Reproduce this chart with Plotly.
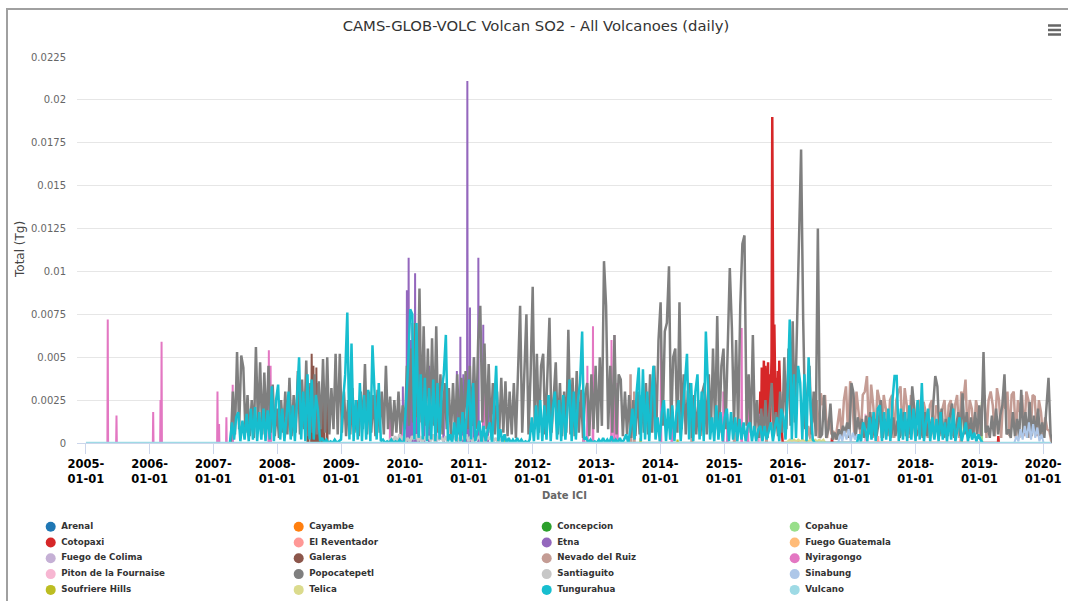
import pandas as pd
import plotly.graph_objects as go

# ---------------- data (values in units of 1e-4 Tg) ----------------
SCALE = 1e-4
STEP_DAYS = 12

volcano_names = ["Arenal", "Cayambe", "Concepcion", "Copahue", "Cotopaxi", "El Reventador",
                 "Etna", "Fuego Guatemala", "Fuego de Colima", "Galeras", "Nevado del Ruiz",
                 "Nyiragongo", "Piton de la Fournaise", "Popocatepetl", "Santiaguito", "Sinabung",
                 "Soufriere Hills", "Telica", "Tungurahua", "Vulcano"]
volcano_colors = ["#1f77b4", "#ff7f0e", "#2ca02c", "#98df8a", "#d62728", "#ff9896",
                  "#9467bd", "#ffbb78", "#c5b0d5", "#8c564b", "#c49c94", "#e377c2",
                  "#f7b6d2", "#7f7f7f", "#c7c7c7", "#aec7e8", "#bcbd22", "#dbdb8d",
                  "#17becf", "#9edae5"]

# Popocatepetl: 12-day samples from 2007-04-10
popo_start = "2007-04-10"
popo_vals = [0, 30, 5, 53, 8, 51, 44, 6, 28, 4,
             25, 3, 56, 10, 47, 5, 41, 8, 45, 6,
             34, 4, 20, 3, 25, 6, 30, 5, 38, 4,
             28, 6, 42, 5, 37, 8, 48, 4, 35, 6,
             40, 5, 36, 8, 49, 6, 50, 5, 32, 8,
             52, 5, 52, 6, 30, 4, 25, 5, 32, 6,
             25, 4, 30, 8, 46, 5, 30, 6, 28, 4,
             31, 6, 30, 5, 45, 8, 27, 4, 25, 6,
             30, 5, 22, 8, 45, 10, 55, 12, 70, 15,
             90, 12, 68, 10, 55, 8, 61, 10, 68, 6,
             40, 5, 35, 8, 32, 4, 35, 6, 40, 5,
             38, 6, 42, 8, 45, 10, 50, 8, 60, 80,
             12, 58, 8, 46, 6, 35, 5, 30, 4, 38,
             6, 36, 4, 30, 5, 35, 3, 40, 80, 6,
             40, 75, 5, 40, 91, 8, 52, 6, 45, 52,
             5, 40, 73, 6, 30, 47, 5, 35, 4, 30,
             6, 66, 5, 38, 4, 42, 6, 31, 3, 28,
             35, 4, 40, 8, 45, 6, 50, 10, 106,
             80, 8, 45, 6, 63, 5, 40, 37, 4, 30,
             5, 28, 3, 25, 4, 30, 5, 28, 6, 35,
             5, 40, 6, 45, 8, 60, 82, 10, 65, 70,
             103, 8, 50, 55, 6, 82, 8, 40, 5, 30,
             35, 3, 28, 5, 25, 4, 30, 35, 5,
             40, 6, 55, 8, 74, 6, 45, 55, 8, 60,
             102, 67, 10, 60, 8, 80, 116, 121, 10, 40,
             6, 63, 5, 25, 3, 20, 4, 25, 3, 20,
             35, 5, 18, 4, 30, 6, 50, 8, 55, 10,
             71, 12, 60, 123, 171, 72, 8, 30, 45, 5,
             30, 4, 125, 3, 5, 28, 3, 8, 23, 2,
             6, 2, 8, 4, 10, 6, 12, 3, 35,
             29, 3, 15, 8, 14, 3, 16, 5, 18, 3,
             14, 4, 12, 25, 3, 14, 5, 12, 3, 15,
             4, 13, 3, 10, 18, 4, 14, 5, 33, 20,
             4, 8, 15, 3, 18, 4, 14, 5, 25, 39,
             33, 5, 20, 3, 14, 4, 16, 23, 3, 12,
             18, 4, 29, 5, 18, 3, 15, 4, 18, 5,
             22, 4, 53, 6, 10, 3, 16, 4, 20, 5,
             16, 22, 40, 5, 8, 3, 18, 4, 14, 3,
             31, 5, 18, 3, 24, 4, 16, 5, 20, 4,
             12, 3, 18, 38, 5, 0]

# Tungurahua: 12-day samples from 2007-04-05
tung_start = "2007-04-05"
tung_vals = [0, 12, 2, 15, 18, 1, 13, 2, 17, 1,
             20, 2, 21, 1, 18, 2, 20, 1, 19, 2,
             33, 1, 25, 34, 2, 20, 1, 18, 30, 2,
             22, 1, 28, 50, 2, 30, 1, 40, 2, 37,
             2, 28, 19, 1, 3, 0, 2, 0, 1, 0,
             2, 0, 1, 2, 25, 40, 76, 2, 58, 1,
             25, 2, 35, 1, 28, 2, 31, 1, 57, 29,
             2, 35, 1, 2, 0, 1, 0, 2, 0, 1,
             0, 2, 0, 1, 20, 45, 78, 75, 2, 70,
             3, 40, 2, 38, 1, 32, 2, 37, 1, 35,
             2, 30, 40, 63, 1, 5, 0, 12, 1, 15,
             1, 18, 0, 20, 37, 2, 35, 1, 8, 13,
             0, 10, 1, 8, 12, 0, 20, 45, 1, 8,
             0, 5, 0, 3, 0, 2, 0, 3, 0, 2,
             0, 1, 0, 2, 15, 1, 22, 2, 25, 1,
             22, 2, 28, 1, 20, 30, 2, 25, 1, 28,
             2, 22, 37, 1, 30, 2, 25, 35, 65, 2,
             3, 0, 2, 0, 1, 0, 2, 0, 3, 0,
             2, 0, 4, 0, 2, 0, 3, 0, 2, 5,
             0, 8, 20, 2, 30, 44, 1, 43, 2, 30,
             1, 25, 45, 2, 15, 1, 18, 25, 1, 20,
             2, 22, 1, 18, 25, 1, 20, 35, 52, 2,
             35, 1, 30, 40, 2, 30, 1, 65, 34, 2,
             15, 1, 22, 2, 18, 1, 15, 20, 1, 18,
             2, 15, 1, 14, 2, 12, 1, 10, 12, 1,
             10, 1, 8, 10, 1, 10, 2, 8, 12, 1,
             10, 15, 1, 20, 15, 2, 30, 72, 2, 40,
             3, 45, 35, 2, 40, 1, 50, 20, 2, 0,
             0, 0, 0, 0, 0, 0, 0, 0, 0, 0,
             0, 0, 0, 0, 0, 0, 0, 0, 0, 0,
             5, 1, 12, 8, 1, 15, 2, 18, 1, 20,
             22, 1, 18, 2, 20, 1, 25, 39, 39, 1,
             20, 2, 18, 1, 22, 2, 20, 1, 25, 2,
             35, 1, 12, 20, 1, 15, 2, 14, 1, 18,
             2, 12, 1, 15, 2, 20, 1, 8, 15, 1,
             6, 12, 1, 8, 2, 6, 1, 5, 2, 0]

# Nevado del Ruiz: 12-day samples from 2016-04-15, plus earlier spikes
ruiz_start = "2016-04-15"
ruiz_vals = [0, 10, 2, 20, 12, 25, 3, 29, 22, 28,
             3, 15, 5, 7, 2, 12, 20, 3, 25, 33,
             5, 36, 25, 4, 30, 18, 3, 28, 30, 39,
             5, 34, 22, 4, 31, 25, 3, 28, 20, 4,
             25, 28, 3, 25, 30, 33, 4, 32, 22, 3,
             28, 20, 3, 23, 25, 4, 24, 18, 3, 22,
             25, 3, 22, 18, 4, 20, 25, 3, 22, 25,
             4, 22, 28, 3, 30, 25, 37, 4, 25, 20,
             3, 25, 18, 4, 25, 28, 3, 25, 30, 22,
             4, 32, 25, 3, 28, 20, 30, 4, 28, 30,
             3, 25, 18, 28, 4, 30, 25, 3, 28, 27,
             4, 25, 18, 3, 15, 8, 7, 0]
ruiz_spike_dates = ["2012-10-20", "2013-07-15", "2013-08-05", "2014-07-01", "2015-03-01", "2015-09-01"]
ruiz_spike_vals = [13, 40, 30, 15, 12, 15]

# Cotopaxi: 4-day samples from 2015-07-20, plus small later spikes
coto_start = "2015-07-20"
coto_step = 4
coto_vals = [0, 10, 30, 8, 44, 12, 40, 48, 10, 45, 38, 8, 25, 47, 10, 40, 12, 45, 50, 190,
             83, 15, 69, 40, 10, 38, 12, 42, 10, 48, 35, 8, 10, 5, 0]
coto_spike_dates = ["2016-09-10", "2019-04-20"]
coto_spike_vals = [3, 4]

etna_dates = ["2009-12-20", "2010-01-12", "2010-01-22", "2010-02-02", "2010-02-12", "2010-02-28",
              "2010-03-10", "2010-03-22", "2010-04-20", "2010-05-20", "2010-06-28", "2010-08-10",
              "2010-10-25", "2010-11-14", "2010-12-01", "2010-12-24", "2011-01-08", "2011-01-30",
              "2011-02-25", "2011-03-25", "2011-04-20"]
etna_vals = [33, 89, 108, 60, 70, 99, 55, 65, 62, 45, 47, 30, 42, 62, 40, 211, 79, 50, 108, 69, 35]

nyira_dates = ["2005-05-06", "2005-06-25", "2006-01-21", "2006-03-04", "2006-03-10", "2007-01-24",
               "2007-02-02", "2007-03-16", "2007-04-21", "2007-11-14", "2007-11-24", "2009-10-08",
               "2009-12-18", "2011-03-28", "2012-10-20", "2012-11-10", "2012-12-12", "2013-03-28",
               "2013-04-14", "2013-05-01", "2014-01-05", "2014-03-08", "2014-12-28", "2015-01-20",
               "2015-04-12", "2015-05-18", "2015-07-22"]
nyira_vals = [72, 16, 18, 25, 59, 30, 11, 15, 34, 54, 45, 16, 19, 40, 20, 45, 68, 60, 63, 35,
              60, 32, 30, 17, 67, 31, 17]

galeras_dates = ["2008-06-25", "2008-07-16", "2008-07-26", "2008-08-12", "2008-08-25",
                 "2008-09-08", "2008-09-22", "2008-10-12"]
galeras_vals = [30, 52, 45, 44, 35, 28, 33, 25]

santi_start = "2009-10-01"
santi_vals = [0, 3, 1, 4, 0, 5, 2, 4, 1, 3, 0, 4, 2, 5, 1, 4, 0, 3, 2, 4, 1, 5, 0, 4, 2, 3,
              1, 4, 0, 5, 2, 4, 1, 3, 0, 4, 2, 5, 1, 4, 0, 3, 2, 4, 1, 3, 0, 4, 2, 5, 1, 3,
              0, 2, 1, 3, 0, 2, 0, 1, 0]

sinab_start_a = "2016-10-15"
sinab_vals_a = [0, 5, 1, 7, 2, 8, 1, 6, 2, 5, 0]
sinab_start_b = "2019-07-20"
sinab_vals_b = [0, 4, 1, 8, 2, 10, 3, 12, 2, 11, 3, 9, 1, 5, 0]

telica_start = "2015-12-20"
telica_vals = [0, 1, 2, 1, 2, 1, 2, 1, 2, 1, 2, 1, 2, 1, 2, 1, 2, 1, 2, 0]

piton_dates = ["2015-07-25", "2016-05-20", "2017-03-20"]
piton_vals = [10, 5, 17]
revent_dates = ["2017-06-01", "2018-09-15"]
revent_vals = [4, 3]
copahue_dates = ["2018-09-20", "2019-01-15"]
copahue_vals = [23, 24]
souf_dates = ["2011-07-20", "2013-09-10", "2014-04-10"]
souf_vals = [2, 3, 2]
fuego_gt_dates = ["2016-03-01"]
fuego_gt_vals = [2]
vulcano_dates = ["2005-01-01", "2020-02-15"]
vulcano_vals = [0, 0]

tick_years = list(range(2005, 2021))
tick_dates = [f"{y}-01-01" for y in tick_years]
tick_text = [f"{y}-<br>01-01" for y in tick_years]
y_tick_vals = [0, 0.0025, 0.005, 0.0075, 0.01, 0.0125, 0.015, 0.0175, 0.02, 0.0225]
y_tick_text = ["0", "0.0025", "0.005", "0.0075", "0.01", "0.0125", "0.015", "0.0175", "0.02", "0.0225"]


# ---------------- helpers ----------------
def block(start, vals, step=STEP_DAYS):
    xs = list(pd.date_range(start, periods=len(vals), freq=f"{step}D"))
    return xs, [v * SCALE for v in vals]


def spikes(dates, vals, half=2):
    xs, ys = [], []
    for d, v in zip(dates, vals):
        t = pd.Timestamp(d)
        xs += [t - pd.Timedelta(days=half), t, t + pd.Timedelta(days=half)]
        ys += [0, v * SCALE, 0]
    return xs, ys


def combine(*parts):
    pts = []
    for xs, ys in parts:
        pts += list(zip(xs, ys))
    pts.sort(key=lambda p: p[0])
    return [p[0] for p in pts], [p[1] for p in pts]


empty = ([], [])
series = {
    "Arenal": empty,
    "Cayambe": empty,
    "Concepcion": empty,
    "Copahue": spikes(copahue_dates, copahue_vals),
    "Cotopaxi": combine(block(coto_start, coto_vals, coto_step), spikes(coto_spike_dates, coto_spike_vals)),
    "El Reventador": spikes(revent_dates, revent_vals),
    "Etna": spikes(etna_dates, etna_vals),
    "Fuego Guatemala": spikes(fuego_gt_dates, fuego_gt_vals),
    "Fuego de Colima": empty,
    "Galeras": spikes(galeras_dates, galeras_vals, 3),
    "Nevado del Ruiz": combine(spikes(ruiz_spike_dates, ruiz_spike_vals), block(ruiz_start, ruiz_vals)),
    "Nyiragongo": spikes(nyira_dates, nyira_vals),
    "Piton de la Fournaise": spikes(piton_dates, piton_vals),
    "Popocatepetl": block(popo_start, popo_vals),
    "Santiaguito": block(santi_start, santi_vals),
    "Sinabung": combine(block(sinab_start_a, sinab_vals_a), block(sinab_start_b, sinab_vals_b)),
    "Soufriere Hills": spikes(souf_dates, souf_vals),
    "Telica": block(telica_start, telica_vals),
    "Tungurahua": block(tung_start, tung_vals),
    "Vulcano": (list(pd.to_datetime(vulcano_dates)), [v * SCALE for v in vulcano_vals]),
}
dense_series = {"Popocatepetl", "Tungurahua", "Nevado del Ruiz", "Santiaguito", "Cotopaxi"}

# ---------------- figure ----------------
W, H = 1068, 601
PL, PR, PT, PB = 77, 1052, 57, 443

fig = go.Figure()
for name, color in zip(volcano_names, volcano_colors):
    xs, ys = series[name]
    width = 2.5 if name in dense_series or name == "Vulcano" else 2
    fig.add_trace(go.Scatter(x=xs, y=ys, mode="lines", name=name,
                             line=dict(color=color, width=width),
                             showlegend=False, xaxis="x", yaxis="y"))

# legend drawn as marker and text traces on hidden helper axes (4 columns)
COL0, COLW, ROW0, ROWH = 50.7, 248.0, 526.7, 15.8
TEXT_DX = 10.5 / COLW
leg_cols = [k % 4 for k in range(len(volcano_names))]
leg_rows = [k // 4 for k in range(len(volcano_names))]
fig.add_trace(go.Scatter(
    x=leg_cols, y=leg_rows, mode="markers", cliponaxis=False,
    marker=dict(color=volcano_colors, size=10, line=dict(width=0)),
    showlegend=False, hoverinfo="skip", xaxis="x2", yaxis="y2"))
fig.add_trace(go.Scatter(
    x=[c + TEXT_DX for c in leg_cols], y=leg_rows, mode="text", text=volcano_names,
    textposition="middle right", cliponaxis=False, marker=dict(size=1),
    textfont=dict(family="DejaVu Sans", size=8.7, color="#333333", weight="bold"),
    showlegend=False, hoverinfo="skip", xaxis="x2", yaxis="y2"))

fig.update_layout(
    width=W, height=H, autosize=False,
    margin=dict(l=0, r=0, t=0, b=0, pad=0),
    paper_bgcolor="white", plot_bgcolor="rgba(0,0,0,0)",
    showlegend=False,
    title=dict(text="CAMS-GLOB-VOLC Volcan SO2 - All Volcanoes (daily)",
               x=536 / W, xanchor="center", xref="paper", y=1 - 26 / H, yanchor="middle", yref="paper",
               automargin=False,
               font=dict(family="DejaVu Sans", size=14.8, color="#333333")),
    xaxis=dict(domain=[PL / W, PR / W], type="date", range=["2004-11-11", "2020-02-21"],
               automargin=False,
               tickvals=tick_dates, ticktext=tick_text, ticks="outside", ticklen=10,
               tickcolor="#ccd6eb", tickwidth=1, showline=True, linecolor="#ccd6eb", linewidth=1,
               showgrid=False, zeroline=False, anchor="y",
               tickfont=dict(family="DejaVu Sans", size=11.5, color="#000000", weight="bold")),
    yaxis=dict(domain=[1 - PB / H, 1 - PT / H], range=[0, 0.0225], anchor="x",
               automargin=False,
               tickvals=y_tick_vals, ticktext=y_tick_text, ticks="", showgrid=True,
               gridcolor="#e6e6e6", gridwidth=1, zeroline=False, showline=False,
               ticklabelstandoff=10,
               tickfont=dict(family="DejaVu Sans", size=10, color="#666666")),
    xaxis2=dict(domain=[0, 1], range=[-COL0 / COLW, (W - COL0) / COLW], visible=False,
                anchor="y2", automargin=False),
    yaxis2=dict(domain=[0, 1], range=[(H - ROW0) / ROWH, -ROW0 / ROWH], visible=False,
                anchor="x2", automargin=False),
    annotations=[
        dict(text="Total (Tg)", x=20 / W, y=1 - 250 / H, xref="paper", yref="paper",
             textangle=-90, showarrow=False, xanchor="center", yanchor="middle",
             font=dict(family="DejaVu Sans", size=12, color="#444444")),
        dict(text="Date ICI", x=(PL + PR) / 2 / W, y=1 - 495 / H, xref="paper", yref="paper",
             showarrow=False, xanchor="center", yanchor="middle",
             font=dict(family="DejaVu Sans", size=10, color="#666666", weight="bold")),
    ],
    shapes=[
        dict(type="rect", xref="paper", yref="paper", x0=7 / W, x1=1.05, y0=-0.05, y1=1 - 9 / H,
             line=dict(color="#a0a0a0", width=2), fillcolor="rgba(0,0,0,0)", layer="below"),
    ] + [
        dict(type="line", xref="paper", yref="paper", x0=1048 / W, x1=1061 / W,
             y0=1 - yy / H, y1=1 - yy / H, line=dict(color="#666666", width=2.5))
        for yy in (25.5, 30, 34.5)
    ],
)

fig.write_html("out.html", config={"displayModeBar": False},
               post_script="document.body.style.margin='0px';document.body.style.overflow='hidden';")
